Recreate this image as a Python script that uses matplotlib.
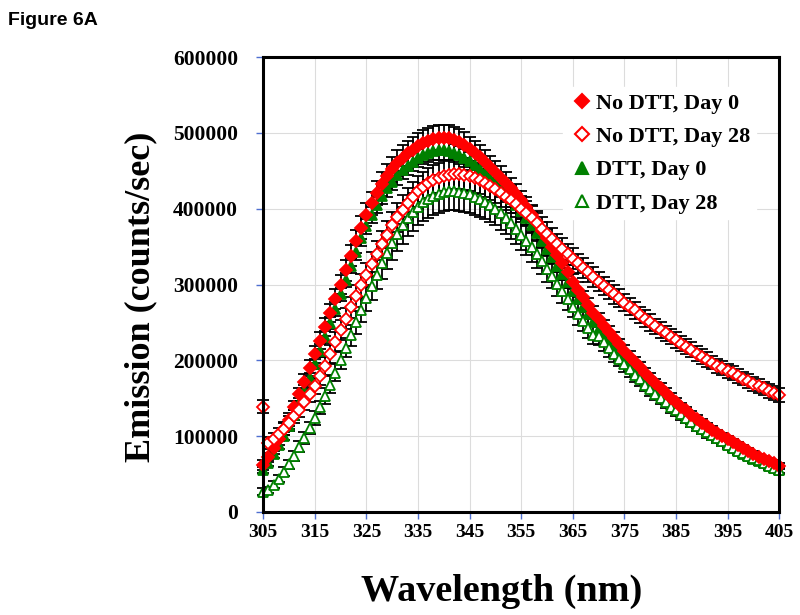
import numpy as np
import matplotlib
matplotlib.use('Agg')
import matplotlib.pyplot as plt
from matplotlib.lines import Line2D

plt.rcParams['font.family'] = ['Liberation Serif', 'DejaVu Serif']

# wavelength (nm), 305..405 every 1 nm
wavelength = np.arange(305, 406)

# emission in thousands of counts/sec
no_dtt_day0 = [62, 72, 84, 96, 109, 122, 138, 155, 172, 190,
               208, 226, 244, 262, 281, 300, 319, 338, 357, 375,
               392, 407, 421, 433, 443, 452, 460, 467, 473, 478,
               483, 487, 490, 492, 494, 494, 493, 491, 488, 484,
               479, 474, 468, 462, 455, 448, 441, 434, 427, 419,
               411, 402, 392, 382, 371, 361, 350, 339, 328, 316,
               304, 293, 283, 273, 263, 254, 245, 237, 229, 221,
               213, 205, 198, 191, 184, 177, 170, 164, 157, 151,
               145, 139, 134, 128, 123, 118, 113, 108, 104, 100,
               96, 92, 88, 84, 80, 76, 73, 70, 67, 64, 61]
no_dtt_day28 = [139, 91, 96, 103, 110, 118, 126, 135, 145, 155,
                166, 179, 193, 208, 224, 240, 255, 270, 285, 299,
                313, 327, 341, 354, 366, 378, 389, 399, 408, 416,
                423, 429, 434, 438, 441, 443, 445, 446, 446, 445,
                443, 441, 438, 434, 430, 426, 421, 416, 411, 406,
                400, 394, 388, 381, 374, 367, 360, 353, 347, 340,
                334, 328, 322, 316, 310, 304, 298, 293, 287, 282,
                276, 271, 266, 260, 255, 250, 245, 240, 236, 231,
                227, 222, 218, 214, 209, 205, 201, 197, 193, 190,
                186, 183, 179, 176, 173, 169, 166, 163, 160, 157, 154]
dtt_day0 = [55, 65, 76, 88, 100, 113, 128, 144, 160, 177,
            195, 213, 231, 249, 268, 287, 306, 325, 343, 361,
            377, 392, 405, 417, 427, 436, 444, 451, 457, 462,
            467, 471, 474, 476, 477, 477, 476, 474, 471, 467,
            463, 458, 453, 447, 441, 435, 428, 421, 413, 405,
            397, 388, 378, 368, 358, 347, 336, 325, 314, 303,
            292, 281, 271, 261, 251, 242, 233, 225, 217, 209,
            201, 193, 186, 179, 172, 165, 159, 153, 147, 141,
            136, 130, 125, 120, 115, 110, 105, 101, 97, 93,
            89, 85, 81, 77, 74, 70, 67, 64, 61, 58, 55]
dtt_day28 = [27, 29, 36, 44, 53, 63, 74, 86, 98, 111,
             124, 138, 153, 168, 184, 200, 217, 233, 250, 266,
             282, 298, 313, 328, 342, 355, 367, 378, 388, 396,
             403, 409, 413, 417, 420, 422, 423, 423, 422, 421,
             419, 416, 413, 409, 405, 400, 394, 388, 381, 374,
             366, 358, 349, 340, 331, 321, 311, 301, 291, 281,
             271, 261, 252, 243, 234, 232, 224, 216, 209, 202,
             195, 188, 181, 175, 168, 162, 156, 150, 145, 139,
             134, 129, 124, 119, 114, 110, 105, 101, 97, 93,
             89, 85, 81, 78, 74, 71, 68, 64, 61, 58, 55]

# error bars (thousands)
err_no_dtt_day0 = [6, 6, 7, 7, 8, 8, 9, 9, 10, 10,
                   11, 11, 12, 12, 13, 13, 14, 14, 15, 15,
                   15, 15, 16, 16, 16, 16, 17, 17, 17, 17,
                   17, 17, 17, 17, 17, 17, 17, 17, 17, 17,
                   16, 16, 16, 16, 15, 15, 15, 14, 14, 14,
                   13, 13, 13, 12, 12, 12, 11, 11, 11, 10,
                   10, 10, 9, 9, 9, 8, 8, 8, 8, 7,
                   7, 7, 7, 7, 6, 6, 6, 6, 6, 6,
                   5, 5, 5, 5, 5, 5, 5, 5, 4, 4,
                   4, 4, 4, 4, 4, 4, 4, 4, 4, 4, 4]
err_no_dtt_day28 = [9, 8, 8, 8, 9, 9, 9, 10, 10, 10,
                    11, 11, 12, 12, 13, 13, 14, 14, 15, 15,
                    16, 16, 17, 17, 18, 18, 19, 19, 19, 20,
                    20, 20, 20, 20, 20, 20, 20, 20, 20, 20,
                    20, 20, 19, 19, 19, 18, 18, 18, 17, 17,
                    17, 16, 16, 16, 15, 15, 15, 14, 14, 14,
                    14, 13, 13, 13, 13, 12, 12, 12, 12, 12,
                    11, 11, 11, 11, 11, 11, 10, 10, 10, 10,
                    10, 10, 10, 10, 10, 10, 10, 9, 9, 9,
                    9, 9, 9, 9, 9, 9, 9, 9, 9, 9, 9]
err_dtt_day0 = [4, 4, 5, 5, 5, 6, 6, 6, 7, 7,
                7, 8, 8, 8, 9, 9, 9, 10, 10, 10,
                10, 11, 11, 11, 11, 11, 12, 12, 12, 12,
                12, 12, 12, 12, 12, 12, 12, 12, 12, 12,
                12, 11, 11, 11, 11, 11, 10, 10, 10, 10,
                10, 9, 9, 9, 9, 8, 8, 8, 8, 8,
                7, 7, 7, 7, 6, 6, 6, 6, 6, 6,
                5, 5, 5, 5, 5, 5, 5, 4, 4, 4,
                4, 4, 4, 4, 4, 4, 4, 3, 3, 3,
                3, 3, 3, 3, 3, 3, 3, 3, 3, 3, 3]
err_dtt_day28 = [4, 4, 5, 5, 6, 6, 7, 7, 8, 8,
                 9, 9, 10, 11, 11, 12, 13, 14, 15, 16,
                 17, 18, 19, 20, 21, 22, 23, 24, 24, 25,
                 25, 25, 25, 25, 25, 25, 25, 25, 25, 25,
                 25, 24, 24, 23, 23, 22, 22, 21, 21, 20,
                 20, 19, 19, 18, 17, 17, 16, 16, 15, 15,
                 14, 14, 13, 13, 12, 12, 11, 11, 11, 10,
                 10, 10, 9, 9, 9, 9, 8, 8, 8, 8,
                 8, 7, 7, 7, 7, 7, 7, 6, 6, 6,
                 6, 6, 6, 6, 6, 6, 6, 5, 5, 5, 5]

x_ticks = list(range(305, 406, 10))
y_ticks = [0, 100000, 200000, 300000, 400000, 500000, 600000]

RED = '#FF0000'
GREEN = '#008000'
TICK_BLUE = '#4F6FD0'

# (label, values, errors, colour, marker, filled)
series = [
    ('DTT, Day 0', dtt_day0, err_dtt_day0, GREEN, '^', True),
    ('DTT, Day 28', dtt_day28, err_dtt_day28, GREEN, '^', False),
    ('No DTT, Day 0', no_dtt_day0, err_no_dtt_day0, RED, 'D', True),
    ('No DTT, Day 28', no_dtt_day28, err_no_dtt_day28, RED, 'D', False),
]

fig = plt.figure(figsize=(8, 6.15), dpi=100)
ax = fig.add_axes([0.329, 0.1675, 0.645, 0.7395])

for label, vals, errs, col, mk, filled in series:
    y = np.array(vals) * 1000
    e = np.array(errs) * 1000
    eb = ax.errorbar(wavelength, y, yerr=e, fmt='none', ecolor='black',
                     elinewidth=1.3, capsize=4.3, capthick=1.3, zorder=2)
    for art in eb.lines[1] + eb.lines[2]:
        art.set_clip_on(False)
for label, vals, errs, col, mk, filled in series:
    y = np.array(vals) * 1000
    ms = 6.8 if mk == '^' else 5.8
    ax.plot(wavelength, y, linestyle='none', marker=mk, markersize=ms,
            markerfacecolor=col if filled else 'white',
            markeredgecolor=col, markeredgewidth=1.3, zorder=3, clip_on=False)

ax.set_xlim(305, 405)
ax.set_ylim(0, 600000)
ax.set_xticks(x_ticks)
ax.set_yticks(y_ticks)
ax.set_yticklabels([str(v) for v in y_ticks])
ax.tick_params(axis='both', direction='out', length=5, width=1,
               color=TICK_BLUE)
ax.tick_params(axis='x', labelsize=14, pad=4)
ax.tick_params(axis='y', labelsize=15.5, pad=13)
for lab in ax.get_xticklabels() + ax.get_yticklabels():
    lab.set_fontweight('bold')
ax.grid(True, color='#DCDCDC', linewidth=0.8)
ax.set_axisbelow(True)
for sp in ax.spines.values():
    sp.set_linewidth(2.2)
    sp.set_color('black')
    sp.set_zorder(4)

ax.set_xlabel('Wavelength (nm)', fontsize=27.5, fontweight='bold')
ax.xaxis.set_label_coords(0.462, -0.136)
ax.set_ylabel('Emission (counts/sec)', fontsize=26, fontweight='bold')
ax.yaxis.set_label_coords(-0.205, 0.4725)

handles = [
    Line2D([], [], linestyle='none', marker='D', markersize=7.5,
           markerfacecolor=RED, markeredgecolor=RED, markeredgewidth=1.5),
    Line2D([], [], linestyle='none', marker='D', markersize=7.5,
           markerfacecolor='white', markeredgecolor=RED, markeredgewidth=1.5),
    Line2D([], [], linestyle='none', marker='^', markersize=9,
           markerfacecolor=GREEN, markeredgecolor=GREEN, markeredgewidth=1.5),
    Line2D([], [], linestyle='none', marker='^', markersize=9,
           markerfacecolor='white', markeredgecolor=GREEN, markeredgewidth=1.5),
]
labels = ['No DTT, Day 0', 'No DTT, Day 28', 'DTT, Day 0', 'DTT, Day 28']
leg = ax.legend(handles, labels, loc='upper left', bbox_to_anchor=(0.559, 0.958),
                frameon=True, framealpha=1, edgecolor='white', facecolor='white',
                prop={'family': 'Liberation Serif', 'weight': 'bold', 'size': 16},
                handletextpad=0.05, handlelength=1.2, labelspacing=0.58,
                borderpad=0.25)

fig.text(0.01, 0.966, 'Figure 6A', fontsize=14, fontweight='bold',
         family='Liberation Sans', va='center')

fig.savefig('out.png', dpi=100)
